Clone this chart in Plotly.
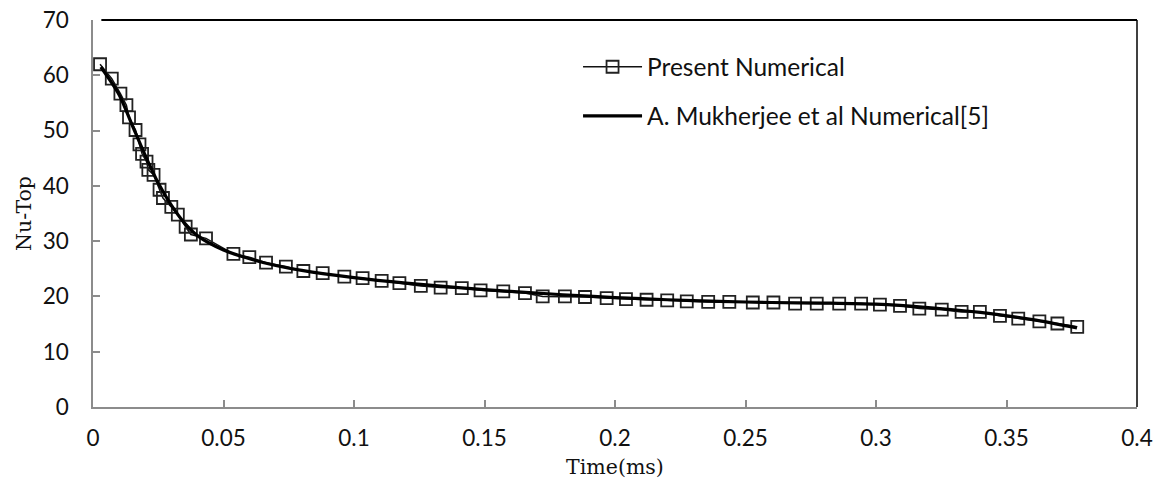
import plotly.graph_objects as go

# Present Numerical (open squares)
present_x = [0.0027, 0.0072, 0.0105, 0.0128, 0.0138, 0.0163, 0.0178, 0.0188, 0.0205, 0.0212,
             0.0232, 0.0255, 0.0268, 0.0300, 0.0325, 0.0355, 0.0375, 0.0433, 0.0538, 0.0599,
             0.0663, 0.0739, 0.0806, 0.0880, 0.0963, 0.1033, 0.1106, 0.1174, 0.1256, 0.1332,
             0.1413, 0.1485, 0.1572, 0.1655, 0.1723, 0.1808, 0.1885, 0.1968, 0.2042, 0.2121,
             0.2200, 0.2275, 0.2357, 0.2438, 0.2528, 0.2607, 0.2690, 0.2773, 0.2859, 0.2943,
             0.3015, 0.3092, 0.3166, 0.3252, 0.3328, 0.3398, 0.3475, 0.3545, 0.3626, 0.3695,
             0.3771]
present_y = [62.0, 59.4, 56.7, 54.6, 52.4, 50.1, 47.5, 45.8, 44.4, 42.9,
             42.0, 39.3, 37.8, 36.2, 34.8, 32.6, 31.2, 30.5, 27.7, 27.1,
             26.1, 25.4, 24.6, 24.2, 23.6, 23.3, 22.8, 22.4, 21.9, 21.6,
             21.5, 21.1, 20.9, 20.6, 20.0, 20.0, 19.9, 19.7, 19.5, 19.4,
             19.3, 19.1, 19.0, 19.0, 18.9, 18.9, 18.7, 18.7, 18.7, 18.7,
             18.5, 18.3, 17.8, 17.6, 17.2, 17.2, 16.5, 16.0, 15.5, 15.1,
             14.5]

# A. Mukherjee et al Numerical[5] (solid line)
ref_x = [0.003, 0.010, 0.015, 0.020, 0.025, 0.030, 0.035, 0.040, 0.050, 0.060, 0.070, 0.080,
         0.100, 0.120, 0.140, 0.160, 0.180, 0.200, 0.220, 0.240, 0.260, 0.280, 0.300, 0.320,
         0.340, 0.360, 0.377]
ref_y = [61.5, 56.5, 51.0, 45.5, 40.5, 36.5, 33.3, 31.0, 28.4, 26.8, 25.6, 24.7,
         23.4, 22.4, 21.6, 20.9, 20.3, 19.8, 19.4, 19.1, 18.9, 18.8, 18.6, 18.0,
         17.1, 15.8, 14.3]

x_ticks = [0, 0.05, 0.1, 0.15, 0.2, 0.25, 0.3, 0.35, 0.4]
x_ticklabels = ["0", "0.05", "0.1", "0.15", "0.2", "0.25", "0.3", "0.35", "0.4"]
y_ticks = [0, 10, 20, 30, 40, 50, 60, 70]

fig = go.Figure()
fig.add_trace(go.Scatter(
    x=present_x, y=present_y, mode="lines+markers", name="Present Numerical",
    line=dict(color="#111111", width=1.5),
    marker=dict(symbol="square-open", size=12, color="#222222", line=dict(width=1.8)),
    legend="legend"))
fig.add_trace(go.Scatter(
    x=ref_x, y=ref_y, mode="lines", name="A. Mukherjee et al Numerical[5]",
    line=dict(color="#000000", width=3.2, shape="spline", smoothing=0.8),
    legend="legend2"))

axis_font = dict(family="Lato, Open Sans, sans-serif", size=22.5, color="#111111")
legend_font = dict(family="Lato, Open Sans, sans-serif", size=24.5, color="#111111")
title_font = dict(family="DejaVu Serif, serif", size=20.5, color="#111111")
fig.update_layout(
    width=1156, height=493,
    margin=dict(l=93, r=19, t=20, b=86, autoexpand=False),
    plot_bgcolor="white", paper_bgcolor="white",
    showlegend=True,
    legend=dict(x=0.4646, y=0.879, xanchor="left", yanchor="middle", bgcolor="rgba(0,0,0,0)",
                font=legend_font, itemwidth=59),
    legend2=dict(x=0.4646, y=0.752, xanchor="left", yanchor="middle", bgcolor="rgba(0,0,0,0)",
                 font=legend_font, itemwidth=59),
    xaxis=dict(range=[0, 0.4], tickvals=x_ticks, ticktext=x_ticklabels, automargin=False,
               showgrid=False, zeroline=False, showline=True, linecolor="#8c8c8c", linewidth=1.5,
               ticks="inside", ticklen=7, tickcolor="#8c8c8c", tickwidth=1.5,
               tickfont=axis_font, ticklabelstandoff=10,
               title=dict(text="Time(ms)", font=title_font, standoff=10)),
    yaxis=dict(range=[0, 70], tickvals=y_ticks, automargin=False,
               showgrid=False, zeroline=False, showline=True, linecolor="#8c8c8c", linewidth=1.5,
               ticks="inside", ticklen=7, tickcolor="#8c8c8c", tickwidth=1.5,
               tickfont=axis_font, ticklabelstandoff=18,
               title=dict(text="Nu-Top", font=title_font, standoff=5)),
    shapes=[
        dict(type="line", xref="paper", yref="paper", x0=0.008, x1=1, y0=1, y1=1,
             line=dict(color="#000000", width=2)),
        dict(type="line", xref="paper", yref="paper", x0=1, x1=1, y0=0, y1=1,
             line=dict(color="#000000", width=1.5)),
    ],
)

fig.write_html("out.html", config={"displayModeBar": False},
               post_script="document.body.style.margin='0';")
